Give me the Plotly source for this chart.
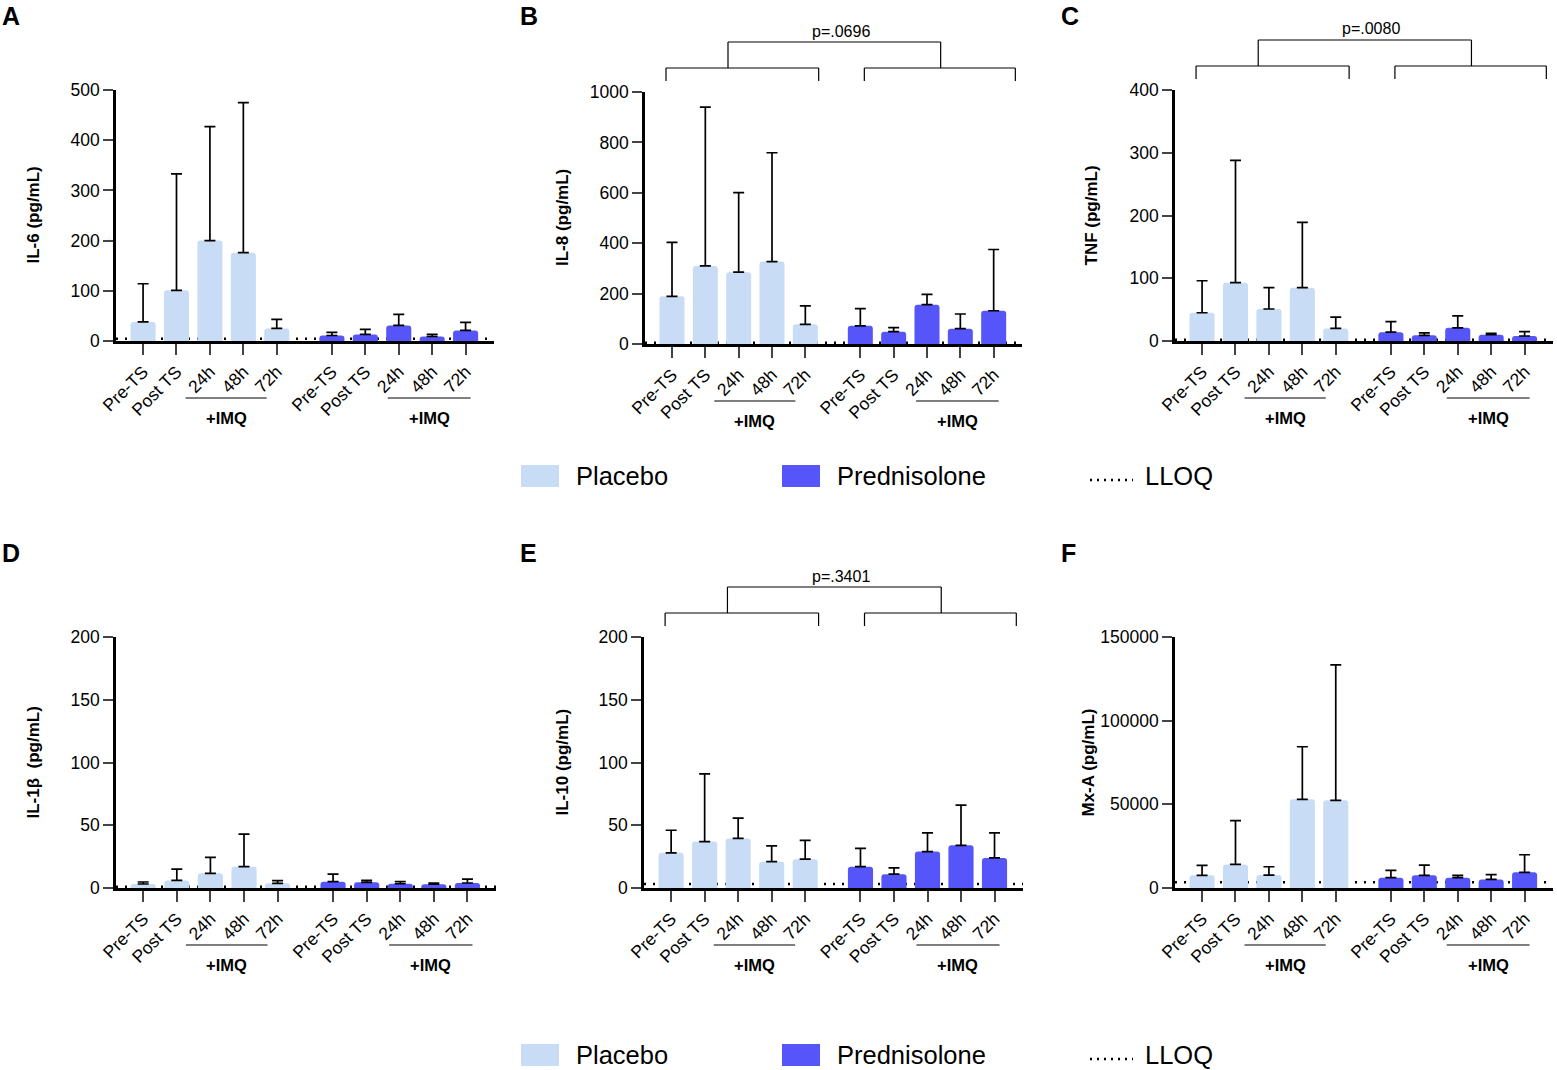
import plotly.graph_objects as go

W, H = 1557, 1070
FONT = "Liberation Sans, Arial, sans-serif"

PLACEBO_COLOR = "#C8DCF6"
PRED_COLOR = "#5555FA"

timepoints = ["Pre-TS", "Post TS", "24h", "48h", "72h"]

# group means and top of the SD whisker
il6_placebo = [38, 101, 200, 176, 25]
il6_placebo_top = [114, 333, 427, 475, 43]
il6_pred = [11, 13, 31, 9, 21]
il6_pred_top = [17, 23, 53, 13, 37]

il8_placebo = [189, 310, 285, 327, 78]
il8_placebo_top = [403, 940, 601, 759, 151]
il8_pred = [72, 49, 156, 61, 132]
il8_pred_top = [140, 65, 197, 119, 375]

tnf_placebo = [45, 93, 51, 85, 20]
tnf_placebo_top = [96, 288, 85, 189, 38]
tnf_pred = [14, 9, 21, 10, 8]
tnf_pred_top = [31, 13, 40, 12, 15]

il1b_placebo = [3.2, 6, 11.7, 17, 3.7]
il1b_placebo_top = [4.8, 15, 24.4, 43, 5.8]
il1b_pred = [5, 4.5, 3.4, 3, 4]
il1b_pred_top = [11, 6, 5, 4, 7]

il10_placebo = [28, 37, 39.5, 21, 23]
il10_placebo_top = [46, 91, 55.6, 33.6, 38]
il10_pred = [17, 11, 29, 34, 24]
il10_pred_top = [31.5, 16, 44, 66, 44]

mxa_placebo = [7550, 14100, 7750, 53000, 52400]
mxa_placebo_top = [13500, 40300, 12700, 84400, 133300]
mxa_pred = [6150, 7550, 6150, 5150, 9340]
mxa_pred_top = [10500, 13700, 7550, 7950, 19870]

lloq = {"A": 4.5, "B": 5, "C": 2, "D": 1, "E": 3.2, "F": 3400}
p_values = {"B": "p=.0696", "C": "p=.0080", "E": "p=.3401"}

# letter, y title, data, y max, y ticks, pixel box (x0, x1, ytop, yzero), title x
panels = [
    ("A", "IL-6 (pg/mL)", (il6_placebo, il6_placebo_top, il6_pred, il6_pred_top),
     500, [0, 100, 200, 300, 400, 500], (116, 494, 90, 341), 33),
    ("B", "IL-8 (pg/mL)", (il8_placebo, il8_placebo_top, il8_pred, il8_pred_top),
     1000, [0, 200, 400, 600, 800, 1000], (645, 1022, 92, 344), 562),
    ("C", "TNF (pg/mL)", (tnf_placebo, tnf_placebo_top, tnf_pred, tnf_pred_top),
     400, [0, 100, 200, 300, 400], (1175, 1553, 90, 341), 1091),
    ("D", "IL-1\u03b2  (pg/mL)", (il1b_placebo, il1b_placebo_top, il1b_pred, il1b_pred_top),
     200, [0, 50, 100, 150, 200], (116, 496, 637, 888), 33),
    ("E", "IL-10 (pg/mL)", (il10_placebo, il10_placebo_top, il10_pred, il10_pred_top),
     200, [0, 50, 100, 150, 200], (644, 1023, 637, 888), 562),
    ("F", "Mx-A (pg/mL)", (mxa_placebo, mxa_placebo_top, mxa_pred, mxa_pred_top),
     150000, [0, 50000, 100000, 150000], (1175, 1553, 637, 888), 1088),
]

pos_placebo = [0, 1, 2, 3, 4]
pos_pred = [5.65, 6.65, 7.65, 8.65, 9.65]
XRANGE = [-0.81, 10.5]


def px(v):
    return v / W


def py(v):
    return 1 - v / H


def note(x, y, text, size, xref="paper", yref="paper", xanchor="center", **kw):
    return dict(x=x, y=y, xref=xref, yref=yref, text=text, showarrow=False,
                xanchor=xanchor, yanchor="middle",
                font=dict(size=size, color="black", family=FONT), **kw)


fig = go.Figure()
shapes = []
annotations = []

for i, (letter, ytitle, data, ymax, yticks, box, title_x) in enumerate(panels):
    n = "" if i == 0 else str(i + 1)
    xr, yr = "x" + n, "y" + n
    x0, x1, ytop, yzero = box
    plc, plc_top, prd, prd_top = data

    for pos, vals, tops, col, name in [
        (pos_placebo, plc, plc_top, PLACEBO_COLOR, "Placebo"),
        (pos_pred, prd, prd_top, PRED_COLOR, "Prednisolone"),
    ]:
        fig.add_trace(go.Bar(
            x=pos, y=vals, width=0.75, name=name, showlegend=False,
            marker=dict(color=col, line=dict(width=0), cornerradius=3),
            error_y=dict(type="data", symmetric=False,
                         array=[t - v for t, v in zip(tops, vals)],
                         arrayminus=[0] * len(vals),
                         color="black", thickness=1.7, width=5.5),
            xaxis=xr, yaxis=yr,
        ))

    fig.update_layout({
        "xaxis" + n: dict(
            domain=[px(x0), px(x1)], anchor=yr, range=XRANGE, automargin=False,
            tickvals=pos_placebo + pos_pred, ticktext=timepoints * 2,
            tickangle=-45, ticks="outside", ticklen=11, tickwidth=2.2,
            showline=True, linewidth=2.6, linecolor="black",
            showgrid=False, zeroline=False,
            tickfont=dict(size=17.5, color="black", family=FONT),
        ),
        "yaxis" + n: dict(
            domain=[py(yzero), py(ytop)], anchor=xr, range=[0, ymax], automargin=False,
            tickvals=yticks, tickformat="d", ticks="outside", ticklen=10,
            tickwidth=2.2, showline=True, linewidth=2.6, linecolor="black",
            showgrid=False, zeroline=False,
            tickfont=dict(size=17.5, color="black", family=FONT),
        ),
    })

    # LLOQ dotted line
    shapes.append(dict(type="line", xref=xr, yref=yr, x0=XRANGE[0], x1=XRANGE[1],
                       y0=lloq[letter], y1=lloq[letter], layer="below",
                       line=dict(color="black", width=2.4, dash="2px,7px")))

    # +IMQ underlines
    for a, b in [(pos_placebo[2] - 0.73, pos_placebo[4] - 0.3),
                 (pos_pred[2] - 0.33, pos_pred[4] + 0.15)]:
        shapes.append(dict(type="line", xref=xr, yref="paper", x0=a, x1=b,
                           y0=py(yzero + 57), y1=py(yzero + 57),
                           line=dict(color="black", width=1.2)))
        annotations.append(note((a + b) / 2, py(yzero + 77), "<b>+IMQ</b>", 16.5, xref=xr))

    # significance brackets
    if letter in p_values:
        low, tip, up = ytop - 24, ytop - 11, ytop - 50
        for a, b in [(-0.18, 4.4), (5.77, 10.3)]:
            for xs, ys in [((a, a), (tip, low)), ((a, b), (low, low)), ((b, b), (low, tip))]:
                shapes.append(dict(type="line", xref=xr, yref="paper",
                                   x0=xs[0], x1=xs[1], y0=py(ys[0]), y1=py(ys[1]),
                                   line=dict(color="black", width=1.2)))
        for xs, ys in [((1.68, 1.68), (low, up)), ((1.68, 8.06), (up, up)),
                       ((8.06, 8.06), (up, low))]:
            shapes.append(dict(type="line", xref=xr, yref="paper",
                               x0=xs[0], x1=xs[1], y0=py(ys[0]), y1=py(ys[1]),
                               line=dict(color="black", width=1.2)))
        annotations.append(note(5.06, py(ytop - 61), p_values[letter], 16, xref=xr))

    # y-axis title
    annotations.append(note(px(title_x), py((ytop + yzero) / 2), "<b>" + ytitle + "</b>",
                            17, textangle=-90))

# panel letters
letter_pos = {"A": (0, 16), "B": (518, 16), "C": (1059, 16),
              "D": (0, 553), "E": (518, 553), "F": (1059, 553)}
for letter, (lx, ly) in letter_pos.items():
    annotations.append(note(px(lx), py(ly), "<b>" + letter + "</b>", 25, xanchor="left"))

# legends (two copies)
legend_items = [("Placebo", PLACEBO_COLOR), ("Prednisolone", PRED_COLOR)]
for yc in (476, 1055):
    for (label, col), sx in zip(legend_items, (521, 782)):
        shapes.append(dict(type="rect", xref="paper", yref="paper",
                           x0=px(sx), x1=px(sx + 38), y0=py(yc + 11), y1=py(yc - 11),
                           fillcolor=col, line=dict(width=0)))
        annotations.append(note(px(sx + 53), py(yc), label, 25.5, xanchor="left"))
    shapes.append(dict(type="line", xref="paper", yref="paper",
                       x0=px(1090), x1=px(1133), y0=py(yc + 4), y1=py(yc + 4),
                       line=dict(color="black", width=2.4, dash="2px,5px")))
    annotations.append(note(px(1143), py(yc), "LLOQ", 25.5, xanchor="left"))

fig.update_layout(
    width=W, height=H, margin=dict(l=0, r=0, t=0, b=0, autoexpand=False),
    paper_bgcolor="white", plot_bgcolor="white",
    barmode="overlay", shapes=shapes, annotations=annotations,
    font=dict(family=FONT, color="black"),
)

# drop the default page margin so the figure sits at the window origin
fig.write_html("out.html", config={"displayModeBar": False},
               post_script="document.body.style.margin='0';document.body.style.overflow='hidden';")
